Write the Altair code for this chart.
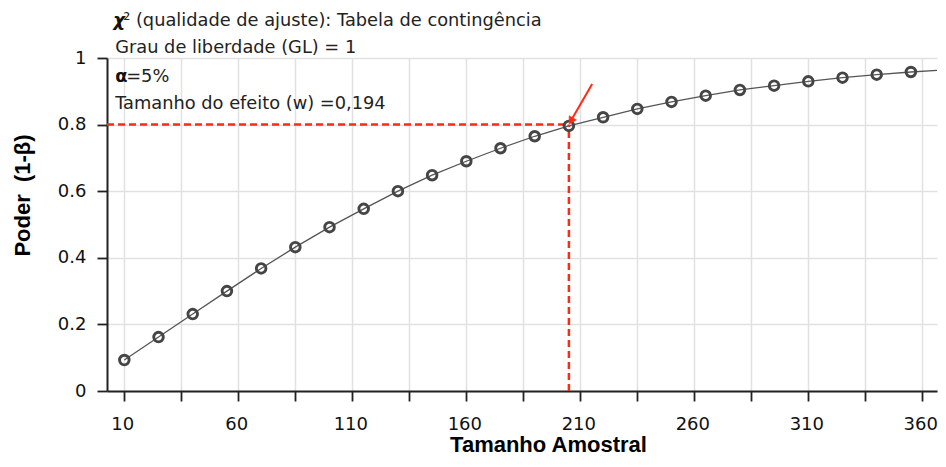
import altair as alt
import pandas as pd

# ---- data ----
sample_size = [10, 25, 40, 55, 70, 85, 100, 115, 130, 145, 160, 175, 190,
               205, 220, 235, 250, 265, 280, 295, 310, 325, 340, 355, 370]
power = [0.093, 0.162, 0.231, 0.300, 0.368, 0.432, 0.492, 0.547, 0.600,
         0.648, 0.690, 0.729, 0.765, 0.796, 0.822, 0.847, 0.868, 0.887,
         0.904, 0.917, 0.930, 0.941, 0.950, 0.958, 0.964]
x_tick_values = list(range(10, 361, 25))
y_tick_values = [round(i * 0.1, 1) for i in range(11)]
target_n = 205
target_power = 0.8
x_min, x_max = 2.4, 366.45

info_lines = ["Grau de liberdade (GL) = 1", "Tamanho do efeito (w) =0,194"]
info_y = [1.014, 0.848]
info_x = 6

RED = "#ff2a12"
FONT = "DejaVu Sans"

df = pd.DataFrame({"n": sample_size, "p": power})

xs = alt.Scale(domain=[x_min, x_max], nice=False, zero=False)
ys = alt.Scale(domain=[0, 1], nice=False, zero=False)

x_axis = alt.Axis(
    values=x_tick_values,
    labelExpr="(datum.value - 10) % 50 == 0 ? datum.label : ''",
    grid=True, gridColor="#e1e1e1", gridWidth=1.5,
    domainColor="#222", domainWidth=2,
    tickColor="#222", tickWidth=1.8, tickSize=10,
    labelFont=FONT, labelFontSize=18, labelColor="#111", labelPadding=14,
    labelOffset=-2,
    labelFlush=False, labelOverlap=False, labelBound=False,
    title="Tamanho Amostral", titleFont="Liberation Sans", titleFontSize=22,
    titleFontWeight="bold", titleColor="#000", titleX=441, titleY=60,
    titleBaseline="alphabetic", titleAlign="center",
)
y_axis = alt.Axis(
    values=y_tick_values, format=".1~f",
    labelExpr="round(datum.value * 10) % 2 == 0 ? datum.label : ''",
    grid=True, gridColor="#e1e1e1", gridWidth=1.5,
    domainColor="#222", domainWidth=2,
    tickColor="#222", tickWidth=1.8, tickSize=10,
    labelFont=FONT, labelFontSize=18, labelColor="#111", labelPadding=11,
    labelFlush=False, labelOverlap=False,
    title="Poder\u00a0\u00a0(1-β)", titleFont="Liberation Sans", titleFontSize=22,
    titleFontWeight="bold", titleColor="#000", titleX=-77.7, titleY=137,
    titleBaseline="alphabetic", titleAlign="center", titleAngle=-90,
)

base = alt.Chart(df)

line = base.mark_line(color="#555555", strokeWidth=1.3, clip=True).encode(
    x=alt.X("n:Q", scale=xs, axis=x_axis),
    y=alt.Y("p:Q", scale=ys, axis=y_axis),
)
points = base.mark_point(shape="circle", filled=False, size=92, strokeWidth=2.9,
                         color="#454545", opacity=1, clip=True).encode(
    x=alt.X("n:Q", scale=xs),
    y=alt.Y("p:Q", scale=ys),
)

hline_df = pd.DataFrame({"x": [x_min], "x2": [target_n], "y": [target_power]})
vline_df = pd.DataFrame({"x": [target_n], "y": [0.0], "y2": [target_power]})
hline = alt.Chart(hline_df).mark_rule(color=RED, strokeWidth=2.5, strokeDash=[7, 4]).encode(
    x=alt.X("x:Q", scale=xs), x2="x2:Q", y=alt.Y("y:Q", scale=ys))
vline = alt.Chart(vline_df).mark_rule(color=RED, strokeWidth=2.5, strokeDash=[7, 4]).encode(
    x=alt.X("x:Q", scale=xs), y=alt.Y("y:Q", scale=ys), y2="y2:Q")

arrow_df = pd.DataFrame({"x": [215.2], "y": [0.922], "x2": [206.2], "y2": [0.815]})
arrow_line = alt.Chart(arrow_df).mark_rule(color=RED, strokeWidth=2).encode(
    x=alt.X("x:Q", scale=xs), y=alt.Y("y:Q", scale=ys), x2="x2:Q", y2="y2:Q")
head_df = pd.DataFrame({"x": [205.9], "y": [0.811]})
arrow_head = alt.Chart(head_df).mark_point(shape="triangle-down", filled=True, size=70,
                                           angle=30, fill=RED, color=RED, stroke=RED,
                                           strokeWidth=0.5, opacity=1, fillOpacity=1).encode(
    x=alt.X("x:Q", scale=xs), y=alt.Y("y:Q", scale=ys))

# header texts
chi_df = pd.DataFrame({"x": [info_x - 0.9], "y": [1.097]})
chi = alt.Chart(chi_df).mark_text(text="χ", font=FONT, fontSize=18, fontStyle="italic",
                                  fontWeight="bold", align="left", baseline="alphabetic",
                                  color="#111").encode(
    x=alt.X("x:Q", scale=xs), y=alt.Y("y:Q", scale=ys))
chi_rest = alt.Chart(chi_df).mark_text(text="² (qualidade de ajuste): Tabela de contingência",
                                       font=FONT, fontSize=17.8, align="left", dx=10,
                                       baseline="alphabetic", color="#222").encode(
    x=alt.X("x:Q", scale=xs), y=alt.Y("y:Q", scale=ys))

info_df = pd.DataFrame({"x": [info_x] * len(info_lines), "y": info_y, "t": info_lines})
info = alt.Chart(info_df).mark_text(font=FONT, fontSize=17.8, align="left",
                                    baseline="alphabetic", color="#222").encode(
    x=alt.X("x:Q", scale=xs), y=alt.Y("y:Q", scale=ys), text="t:N")

alpha_df = pd.DataFrame({"x": [info_x], "y": [0.929]})
alpha_sym = alt.Chart(alpha_df).mark_text(text="α", font=FONT, fontSize=17.8, fontWeight="bold",
                                          align="left", baseline="alphabetic", color="#111").encode(
    x=alt.X("x:Q", scale=xs), y=alt.Y("y:Q", scale=ys))
alpha_rest = alt.Chart(alpha_df).mark_text(text="=5%", font=FONT, fontSize=17.8, dx=11,
                                           align="left", baseline="alphabetic", color="#222").encode(
    x=alt.X("x:Q", scale=xs), y=alt.Y("y:Q", scale=ys))

chart = alt.layer(
    line, hline, vline, points, arrow_line, arrow_head,
    chi, chi_rest, info, alpha_sym, alpha_rest,
).properties(
    width=830, height=333,
    autosize=alt.AutoSizeParams(type="none"),
    padding={"left": 99, "top": 50, "right": 1, "bottom": 64},
    background="white",
).configure_view(stroke=None)

chart.save("out.html", embed_options={"renderer": "svg", "actions": False})
